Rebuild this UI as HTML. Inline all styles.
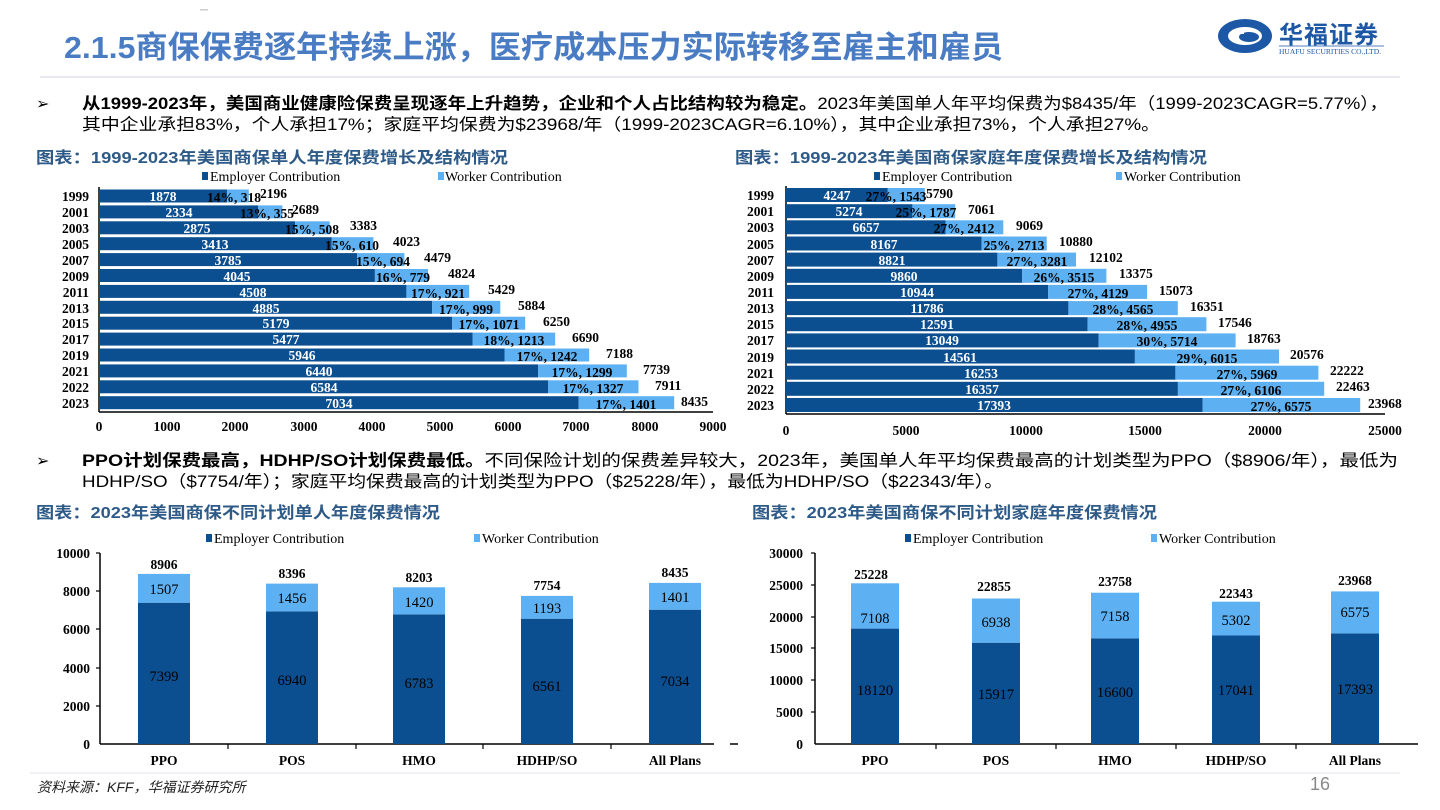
<!DOCTYPE html>
<html><head><meta charset="utf-8"><style>
html,body{margin:0;padding:0;background:#fff;}
body{width:1440px;height:810px;overflow:hidden;position:relative;}
svg{position:absolute;left:0;top:0;}
.t{font-family:"Liberation Serif",serif;font-weight:bold;font-size:13.5px;}
.n{font-family:"Liberation Serif",serif;font-size:14px;}
.cn{font-family:"Liberation Sans","Noto Sans CJK SC",sans-serif;}
</style></head><body>
<svg width="1440" height="810" xmlns="http://www.w3.org/2000/svg">
<!-- header -->
<rect x="200" y="9" width="8" height="1.5" fill="#ccc"/>
<text x="64" y="58" class="cn" font-size="31" font-weight="bold" fill="#4a7cc4" textLength="939" lengthAdjust="spacingAndGlyphs">2.1.5商保保费逐年持续上涨，医疗成本压力实际转移至雇主和雇员</text>
<line x1="40" y1="77" x2="1400" y2="77" stroke="#e0e3ea" stroke-width="1.5"/>
<!-- logo -->
<ellipse cx="1245" cy="36" rx="27" ry="17" fill="#1d58a6"/>
<ellipse cx="1245" cy="36" rx="17" ry="9" fill="#fff"/>
<ellipse cx="1249" cy="37" rx="10" ry="5" fill="#1d58a6"/>
<rect x="1232" y="30" width="12" height="4" fill="#fff"/>
<text x="1279" y="43" class="cn" font-size="24" font-weight="bold" fill="#1d58a6" letter-spacing="1">华福证券</text>
<line x1="1279" y1="46" x2="1384" y2="46" stroke="#1d58a6" stroke-width="0.8"/>
<text x="1279" y="54" font-family="Liberation Serif,serif" font-size="7.5" fill="#1d58a6">HUAFU SECURITIES CO.,LTD.</text>

<!-- bullet 1 -->
<text x="36" y="109" font-size="16" fill="#000" font-family="DejaVu Sans,sans-serif">➢</text>
<text x="82" y="109" class="cn" font-size="16.5" fill="#000" textLength="1306" lengthAdjust="spacingAndGlyphs"><tspan font-weight="bold">从1999-2023年，美国商业健康险保费呈现逐年上升趋势，企业和个人占比结构较为稳定。</tspan>2023年美国单人年平均保费为$8435/年（1999-2023CAGR=5.77%），</text>
<text x="82" y="130" class="cn" font-size="16.5" fill="#000" textLength="1078" lengthAdjust="spacingAndGlyphs">其中企业承担83%，个人承担17%；家庭平均保费为$23968/年（1999-2023CAGR=6.10%），其中企业承担73%，个人承担27%。</text>

<text x="36" y="163" class="cn" font-size="16" font-weight="bold" fill="#2e5a87" textLength="472" lengthAdjust="spacingAndGlyphs">图表：1999-2023年美国商保单人年度保费增长及结构情况</text>
<text x="735" y="163" class="cn" font-size="16" font-weight="bold" fill="#2e5a87" textLength="472" lengthAdjust="spacingAndGlyphs">图表：1999-2023年美国商保家庭年度保费增长及结构情况</text>

<!-- legends top -->
<rect x="202" y="172" width="6" height="8" fill="#0b4f91"/><text x="210" y="181" class="n">Employer Contribution</text>
<rect x="438" y="172" width="6" height="8" fill="#5db1f2"/><text x="445" y="181" class="n">Worker Contribution</text>
<rect x="874" y="172" width="6" height="8" fill="#0b4f91"/><text x="882" y="181" class="n">Employer Contribution</text>
<rect x="1116" y="172" width="6" height="8" fill="#5db1f2"/><text x="1124" y="181" class="n">Worker Contribution</text>

<!-- left hbar chart -->
<g class="t">
<line x1="99" y1="187" x2="99" y2="412" stroke="#000" stroke-width="1.5"/>
<line x1="99" y1="412" x2="713" y2="412" stroke="#000" stroke-width="1.5"/>
<g text-anchor="middle">
<text x="99" y="431">0</text><text x="167" y="431">1000</text><text x="235" y="431">2000</text><text x="304" y="431">3000</text><text x="372" y="431">4000</text><text x="440" y="431">5000</text><text x="508" y="431">6000</text><text x="576" y="431">7000</text><text x="645" y="431">8000</text><text x="713" y="431">9000</text>
</g>
<g text-anchor="end">
<text x="89" y="201">1999</text><text x="89" y="217">2001</text><text x="89" y="233">2003</text><text x="89" y="249">2005</text><text x="89" y="265">2007</text><text x="89" y="281">2009</text><text x="89" y="297">2011</text><text x="89" y="313">2013</text><text x="89" y="328">2015</text><text x="89" y="344">2017</text><text x="89" y="360">2019</text><text x="89" y="376">2021</text><text x="89" y="392">2022</text><text x="89" y="408">2023</text>
</g>
<rect x="99" y="189.5" width="128.1" height="13" fill="#0b4f91"/><rect x="227.1" y="189.5" width="21.7" height="13" fill="#5db1f2"/>
<rect x="99" y="205.4" width="159.2" height="13" fill="#0b4f91"/><rect x="258.2" y="205.4" width="24.2" height="13" fill="#5db1f2"/>
<rect x="99" y="221.3" width="196.1" height="13" fill="#0b4f91"/><rect x="295.1" y="221.3" width="34.6" height="13" fill="#5db1f2"/>
<rect x="99" y="237.2" width="232.8" height="13" fill="#0b4f91"/><rect x="331.8" y="237.2" width="41.6" height="13" fill="#5db1f2"/>
<rect x="99" y="253.1" width="258.1" height="13" fill="#0b4f91"/><rect x="357.1" y="253.1" width="47.3" height="13" fill="#5db1f2"/>
<rect x="99" y="269" width="275.9" height="13" fill="#0b4f91"/><rect x="374.9" y="269" width="53.1" height="13" fill="#5db1f2"/>
<rect x="99" y="284.9" width="307.4" height="13" fill="#0b4f91"/><rect x="406.4" y="284.9" width="62.8" height="13" fill="#5db1f2"/>
<rect x="99" y="300.8" width="333.2" height="13" fill="#0b4f91"/><rect x="432.2" y="300.8" width="68.1" height="13" fill="#5db1f2"/>
<rect x="99" y="316.7" width="353.2" height="13" fill="#0b4f91"/><rect x="452.2" y="316.7" width="73" height="13" fill="#5db1f2"/>
<rect x="99" y="332.6" width="373.5" height="13" fill="#0b4f91"/><rect x="472.5" y="332.6" width="82.7" height="13" fill="#5db1f2"/>
<rect x="99" y="348.5" width="405.5" height="13" fill="#0b4f91"/><rect x="504.5" y="348.5" width="84.7" height="13" fill="#5db1f2"/>
<rect x="99" y="364.4" width="439.2" height="13" fill="#0b4f91"/><rect x="538.2" y="364.4" width="88.6" height="13" fill="#5db1f2"/>
<rect x="99" y="380.3" width="449" height="13" fill="#0b4f91"/><rect x="548" y="380.3" width="90.5" height="13" fill="#5db1f2"/>
<rect x="99" y="396.2" width="479.7" height="13" fill="#0b4f91"/><rect x="578.7" y="396.2" width="95.5" height="13" fill="#5db1f2"/>
<g text-anchor="middle" fill="#fff">
<text x="163" y="201">1878</text><text x="179" y="217">2334</text><text x="197" y="233">2875</text><text x="215" y="249">3413</text><text x="228" y="265">3785</text><text x="237" y="281">4045</text><text x="253" y="297">4508</text><text x="266" y="313">4885</text><text x="276" y="328">5179</text><text x="286" y="344">5477</text><text x="302" y="360">5946</text><text x="319" y="376">6440</text><text x="324" y="392">6584</text><text x="339" y="408">7034</text>
</g>
<g text-anchor="middle" fill="#000">
<text x="234" y="202">14%, 318</text><text x="267" y="218">13%, 355</text><text x="312" y="234">15%, 508</text><text x="352" y="250">15%, 610</text><text x="383" y="266">15%, 694</text><text x="403" y="282">16%, 779</text><text x="438" y="298">17%, 921</text><text x="466" y="314">17%, 999</text><text x="489" y="329">17%, 1071</text><text x="514" y="345">18%, 1213</text><text x="547" y="361">17%, 1242</text><text x="582" y="377">17%, 1299</text><text x="593" y="393">17%, 1327</text><text x="626" y="409">17%, 1401</text>
</g>
<g fill="#000">
<text x="260" y="198">2196</text><text x="292" y="214">2689</text><text x="350" y="230">3383</text><text x="393" y="246">4023</text><text x="424" y="262">4479</text><text x="448" y="278">4824</text><text x="488" y="294">5429</text><text x="518" y="310">5884</text><text x="543" y="326">6250</text><text x="572" y="342">6690</text><text x="606" y="358">7188</text><text x="643" y="374">7739</text><text x="655" y="390">7911</text><text x="681" y="406">8435</text>
</g>
</g>

<!-- right hbar chart -->
<g class="t">
<line x1="786" y1="186" x2="786" y2="414" stroke="#000" stroke-width="1.5"/>
<line x1="786" y1="414" x2="1385" y2="414" stroke="#000" stroke-width="1.5"/>
<g text-anchor="middle">
<text x="786" y="435">0</text><text x="906" y="435">5000</text><text x="1026" y="435">10000</text><text x="1145" y="435">15000</text><text x="1265" y="435">20000</text><text x="1385" y="435">25000</text>
</g>
<g text-anchor="end">
<text x="774" y="200">1999</text><text x="774" y="216">2001</text><text x="774" y="232">2003</text><text x="774" y="249">2005</text><text x="774" y="265">2007</text><text x="774" y="281">2009</text><text x="774" y="297">2011</text><text x="774" y="313">2013</text><text x="774" y="329">2015</text><text x="774" y="345">2017</text><text x="774" y="362">2019</text><text x="774" y="378">2021</text><text x="774" y="394">2022</text><text x="774" y="410">2023</text>
</g>
<rect x="786" y="188" width="101.8" height="14" fill="#0b4f91"/><rect x="887.8" y="188" width="37" height="14" fill="#5db1f2"/>
<rect x="786" y="204.2" width="126.4" height="14" fill="#0b4f91"/><rect x="912.4" y="204.2" width="42.8" height="14" fill="#5db1f2"/>
<rect x="786" y="220.3" width="159.5" height="14" fill="#0b4f91"/><rect x="945.5" y="220.3" width="57.8" height="14" fill="#5db1f2"/>
<rect x="786" y="236.5" width="195.7" height="14" fill="#0b4f91"/><rect x="981.7" y="236.5" width="65" height="14" fill="#5db1f2"/>
<rect x="786" y="252.6" width="211.4" height="14" fill="#0b4f91"/><rect x="997.4" y="252.6" width="78.6" height="14" fill="#5db1f2"/>
<rect x="786" y="268.8" width="236.2" height="14" fill="#0b4f91"/><rect x="1022.2" y="268.8" width="84.2" height="14" fill="#5db1f2"/>
<rect x="786" y="284.9" width="262.2" height="14" fill="#0b4f91"/><rect x="1048.2" y="284.9" width="98.9" height="14" fill="#5db1f2"/>
<rect x="786" y="301.1" width="282.4" height="14" fill="#0b4f91"/><rect x="1068.4" y="301.1" width="109.4" height="14" fill="#5db1f2"/>
<rect x="786" y="317.2" width="301.7" height="14" fill="#0b4f91"/><rect x="1087.7" y="317.2" width="118.7" height="14" fill="#5db1f2"/>
<rect x="786" y="333.4" width="312.7" height="14" fill="#0b4f91"/><rect x="1098.7" y="333.4" width="136.9" height="14" fill="#5db1f2"/>
<rect x="786" y="349.5" width="348.9" height="14" fill="#0b4f91"/><rect x="1134.9" y="349.5" width="144.1" height="14" fill="#5db1f2"/>
<rect x="786" y="365.7" width="389.4" height="14" fill="#0b4f91"/><rect x="1175.4" y="365.7" width="143" height="14" fill="#5db1f2"/>
<rect x="786" y="381.8" width="391.9" height="14" fill="#0b4f91"/><rect x="1177.9" y="381.8" width="146.3" height="14" fill="#5db1f2"/>
<rect x="786" y="398" width="416.7" height="14" fill="#0b4f91"/><rect x="1202.7" y="398" width="157.5" height="14" fill="#5db1f2"/>
<g text-anchor="middle" fill="#fff">
<text x="837" y="200">4247</text><text x="849" y="216">5274</text><text x="866" y="232">6657</text><text x="884" y="249">8167</text><text x="892" y="265">8821</text><text x="904" y="281">9860</text><text x="917" y="297">10944</text><text x="927" y="313">11786</text><text x="937" y="329">12591</text><text x="942" y="345">13049</text><text x="960" y="362">14561</text><text x="981" y="378">16253</text><text x="982" y="394">16357</text><text x="994" y="410">17393</text>
</g>
<g text-anchor="middle" fill="#000">
<text x="896" y="201">27%, 1543</text><text x="926" y="217">25%, 1787</text><text x="964" y="233">27%, 2412</text><text x="1014" y="250">25%, 2713</text><text x="1037" y="266">27%, 3281</text><text x="1064" y="282">26%, 3515</text><text x="1098" y="298">27%, 4129</text><text x="1123" y="314">28%, 4565</text><text x="1147" y="330">28%, 4955</text><text x="1167" y="346">30%, 5714</text><text x="1207" y="363">29%, 6015</text><text x="1247" y="379">27%, 5969</text><text x="1251" y="395">27%, 6106</text><text x="1281" y="411">27%, 6575</text>
</g>
<g fill="#000">
<text x="926" y="198">5790</text><text x="968" y="214">7061</text><text x="1016" y="230">9069</text><text x="1059" y="246">10880</text><text x="1089" y="262">12102</text><text x="1119" y="278">13375</text><text x="1159" y="295">15073</text><text x="1190" y="311">16351</text><text x="1218" y="327">17546</text><text x="1247" y="343">18763</text><text x="1290" y="359">20576</text><text x="1330" y="375">22222</text><text x="1336" y="391">22463</text><text x="1368" y="408">23968</text>
</g>
</g>

<!-- bullet 2 -->
<text x="36" y="466" font-size="16" fill="#000" font-family="DejaVu Sans,sans-serif">➢</text>
<text x="82" y="466" class="cn" font-size="16.5" fill="#000" textLength="1316" lengthAdjust="spacingAndGlyphs"><tspan font-weight="bold">PPO计划保费最高，HDHP/SO计划保费最低。</tspan>不同保险计划的保费差异较大，2023年，美国单人年平均保费最高的计划类型为PPO（$8906/年），最低为</text>
<text x="82" y="487" class="cn" font-size="16.5" fill="#000" textLength="921" lengthAdjust="spacingAndGlyphs">HDHP/SO（$7754/年）；家庭平均保费最高的计划类型为PPO（$25228/年），最低为HDHP/SO（$22343/年）。</text>

<text x="36" y="518" class="cn" font-size="16" font-weight="bold" fill="#2e5a87" textLength="404" lengthAdjust="spacingAndGlyphs">图表：2023年美国商保不同计划单人年度保费情况</text>
<text x="752" y="518" class="cn" font-size="16" font-weight="bold" fill="#2e5a87" textLength="405" lengthAdjust="spacingAndGlyphs">图表：2023年美国商保不同计划家庭年度保费情况</text>

<rect x="206" y="534" width="6" height="8" fill="#0b4f91"/><text x="214" y="543" class="n">Employer Contribution</text>
<rect x="474" y="534" width="6" height="8" fill="#5db1f2"/><text x="482" y="543" class="n">Worker Contribution</text>
<rect x="905" y="534" width="6" height="8" fill="#0b4f91"/><text x="913" y="543" class="n">Employer Contribution</text>
<rect x="1151" y="534" width="6" height="8" fill="#5db1f2"/><text x="1159" y="543" class="n">Worker Contribution</text>

<!-- bottom-left column chart -->
<g class="t">
<line x1="100" y1="553" x2="100" y2="744" stroke="#000" stroke-width="1.5"/>
<line x1="100" y1="744" x2="714" y2="744" stroke="#000" stroke-width="1.5"/>
<g stroke="#000" stroke-width="1.2"><line x1="96" y1="553" x2="100" y2="553"/><line x1="96" y1="591" x2="100" y2="591"/><line x1="96" y1="629" x2="100" y2="629"/><line x1="96" y1="668" x2="100" y2="668"/><line x1="96" y1="706" x2="100" y2="706"/><line x1="228" y1="744" x2="228" y2="749"/><line x1="356" y1="744" x2="356" y2="749"/><line x1="483" y1="744" x2="483" y2="749"/><line x1="611" y1="744" x2="611" y2="749"/></g>
<g text-anchor="end"><text x="90" y="558">10000</text><text x="90" y="596">8000</text><text x="90" y="634">6000</text><text x="90" y="673">4000</text><text x="90" y="711">2000</text><text x="90" y="749">0</text></g>
<rect x="138" y="602.7" width="52" height="141.3" fill="#0b4f91"/><rect x="138" y="573.9" width="52" height="28.8" fill="#5db1f2"/>
<rect x="266" y="611.4" width="52" height="132.6" fill="#0b4f91"/><rect x="266" y="583.6" width="52" height="27.8" fill="#5db1f2"/>
<rect x="393" y="614.4" width="52" height="129.6" fill="#0b4f91"/><rect x="393" y="587.3" width="52" height="27.1" fill="#5db1f2"/>
<rect x="521" y="618.7" width="52" height="125.3" fill="#0b4f91"/><rect x="521" y="595.9" width="52" height="22.8" fill="#5db1f2"/>
<rect x="649" y="609.7" width="52" height="134.3" fill="#0b4f91"/><rect x="649" y="582.9" width="52" height="26.8" fill="#5db1f2"/>
<g text-anchor="middle">
<text x="164" y="569">8906</text><text x="292" y="578">8396</text><text x="419" y="582">8203</text><text x="547" y="590">7754</text><text x="675" y="577">8435</text>
<text x="164" y="765">PPO</text><text x="292" y="765">POS</text><text x="419" y="765">HMO</text><text x="547" y="765">HDHP/SO</text><text x="675" y="765">All Plans</text>
</g>
<g text-anchor="middle" font-weight="normal" font-size="14.5">
<text x="164" y="594">1507</text><text x="292" y="603">1456</text><text x="419" y="607">1420</text><text x="547" y="613">1193</text><text x="675" y="602">1401</text>
<text x="164" y="681">7399</text><text x="292" y="685">6940</text><text x="419" y="688">6783</text><text x="547" y="691">6561</text><text x="675" y="686">7034</text>
</g>
</g>

<!-- bottom-right column chart -->
<g class="t">
<line x1="815" y1="553" x2="815" y2="744" stroke="#000" stroke-width="1.5"/>
<line x1="815" y1="744" x2="1418" y2="744" stroke="#000" stroke-width="1.5"/>
<line x1="730" y1="744" x2="738" y2="744" stroke="#000" stroke-width="1.5"/>
<g stroke="#000" stroke-width="1.2"><line x1="811" y1="553" x2="815" y2="553"/><line x1="811" y1="585" x2="815" y2="585"/><line x1="811" y1="617" x2="815" y2="617"/><line x1="811" y1="648" x2="815" y2="648"/><line x1="811" y1="680" x2="815" y2="680"/><line x1="811" y1="712" x2="815" y2="712"/><line x1="936" y1="744" x2="936" y2="749"/><line x1="1056" y1="744" x2="1056" y2="749"/><line x1="1176" y1="744" x2="1176" y2="749"/><line x1="1296" y1="744" x2="1296" y2="749"/></g>
<g text-anchor="end"><text x="803" y="558">30000</text><text x="803" y="590">25000</text><text x="803" y="622">20000</text><text x="803" y="653">15000</text><text x="803" y="685">10000</text><text x="803" y="717">5000</text><text x="803" y="749">0</text></g>
<rect x="851" y="628.6" width="48" height="115.4" fill="#0b4f91"/><rect x="851" y="583.3" width="48" height="45.3" fill="#5db1f2"/>
<rect x="972" y="642.7" width="48" height="101.3" fill="#0b4f91"/><rect x="972" y="598.5" width="48" height="44.2" fill="#5db1f2"/>
<rect x="1091" y="638.3" width="48" height="105.7" fill="#0b4f91"/><rect x="1091" y="592.7" width="48" height="45.6" fill="#5db1f2"/>
<rect x="1212" y="635.5" width="48" height="108.5" fill="#0b4f91"/><rect x="1212" y="601.7" width="48" height="33.8" fill="#5db1f2"/>
<rect x="1331" y="633.3" width="48" height="110.7" fill="#0b4f91"/><rect x="1331" y="591.4" width="48" height="41.9" fill="#5db1f2"/>
<g text-anchor="middle">
<text x="871" y="579">25228</text><text x="994" y="591">22855</text><text x="1115" y="586">23758</text><text x="1236" y="598">22343</text><text x="1355" y="585">23968</text>
<text x="875" y="765">PPO</text><text x="996" y="765">POS</text><text x="1115" y="765">HMO</text><text x="1236" y="765">HDHP/SO</text><text x="1355" y="765">All Plans</text>
</g>
<g text-anchor="middle" font-weight="normal" font-size="14.5">
<text x="875" y="623">7108</text>
<text x="996" y="627">6938</text><text x="1115" y="621">7158</text><text x="1236" y="625">5302</text><text x="1355" y="617">6575</text>
<text x="875" y="695">18120</text><text x="996" y="699">15917</text><text x="1115" y="697">16600</text><text x="1236" y="695">17041</text><text x="1355" y="694">17393</text>
</g>
</g>

<line x1="30" y1="773" x2="1400" y2="773" stroke="#eceef2" stroke-width="1.5"/>
<text x="37" y="792" class="cn" font-size="14" font-style="italic" fill="#222">资料来源：KFF，华福证券研究所</text>
<text x="1310" y="790" font-family="Liberation Sans,sans-serif" font-size="18" fill="#888">16</text>
</svg>
</body></html>
